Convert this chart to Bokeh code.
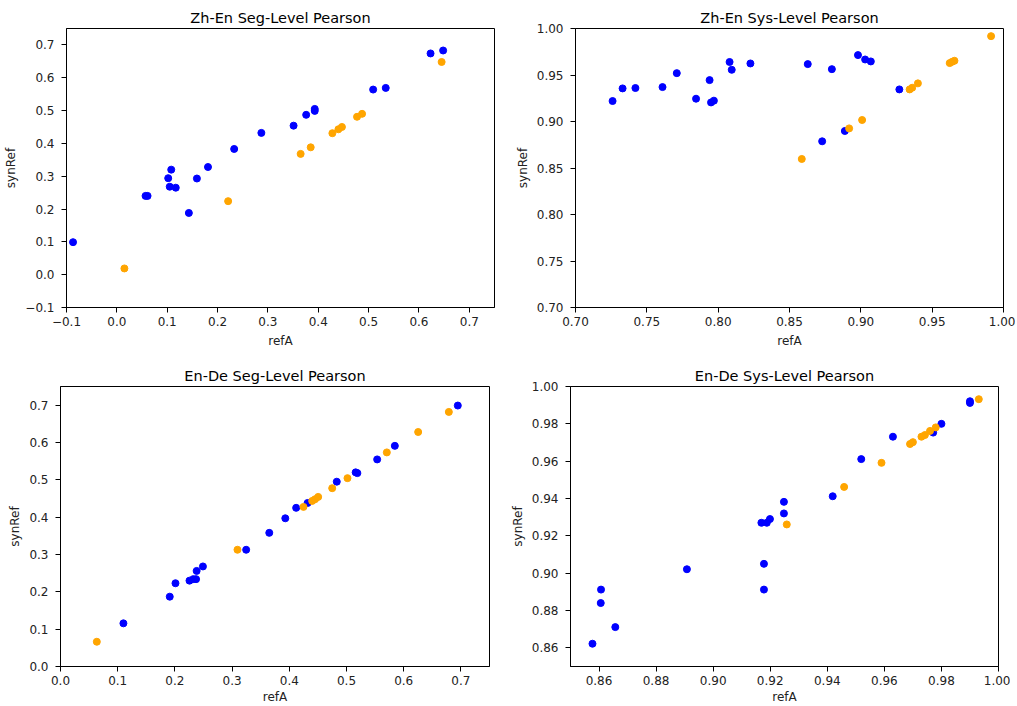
from bokeh.plotting import figure
from bokeh.layouts import column, row
from bokeh.models import FixedTicker, CustomJSTickFormatter, Range1d
from bokeh.embed import file_html
from bokeh.resources import INLINE

# ---------------- data ----------------
# Zh-En Seg-Level
zh_seg_blue_x = [-0.087, 0.057, 0.061, 0.102, 0.108, 0.105, 0.117, 0.143, 0.159, 0.181, 0.233,
                 0.287, 0.351, 0.376, 0.393, 0.393, 0.509, 0.534, 0.623, 0.648]
zh_seg_blue_y = [0.099, 0.240, 0.240, 0.294, 0.320, 0.268, 0.265, 0.188, 0.293, 0.328, 0.383,
                 0.432, 0.454, 0.487, 0.505, 0.499, 0.564, 0.569, 0.674, 0.683]
zh_seg_orange_x = [0.015, 0.221, 0.365, 0.385, 0.428, 0.440, 0.447, 0.477, 0.487, 0.645]
zh_seg_orange_y = [0.019, 0.224, 0.368, 0.388, 0.431, 0.443, 0.450, 0.481, 0.490, 0.648]

# Zh-En Sys-Level
zh_sys_blue_x = [0.726, 0.733, 0.742, 0.761, 0.771, 0.7845, 0.794, 0.795, 0.797, 0.808, 0.8095,
                 0.8226, 0.8628, 0.8729, 0.8797, 0.8888, 0.898, 0.903, 0.907, 0.927]
zh_sys_blue_y = [0.922, 0.9356, 0.936, 0.937, 0.952, 0.9245, 0.9445, 0.9205, 0.9224, 0.964, 0.9556,
                 0.9624, 0.9617, 0.8787, 0.9563, 0.8898, 0.9714, 0.9667, 0.9646, 0.9345]
zh_sys_orange_x = [0.8586, 0.8918, 0.9009, 0.9342, 0.936, 0.940, 0.9623, 0.964, 0.9656, 0.9913]
zh_sys_orange_y = [0.8597, 0.8926, 0.9016, 0.9345, 0.9363, 0.941, 0.9628, 0.9642, 0.9653, 0.9918]

# En-De Seg-Level
en_seg_blue_x = [0.110, 0.191, 0.201, 0.2255, 0.232, 0.237, 0.238, 0.249, 0.3246, 0.365, 0.393,
                 0.412, 0.432, 0.483, 0.516, 0.519, 0.5536, 0.5845, 0.6946]
en_seg_blue_y = [0.1156, 0.187, 0.223, 0.230, 0.234, 0.234, 0.256, 0.268, 0.3127, 0.358, 0.397,
                 0.425, 0.438, 0.495, 0.520, 0.518, 0.5547, 0.591, 0.699]
en_seg_orange_x = [0.0635, 0.3094, 0.4248, 0.440, 0.445, 0.4505, 0.475, 0.5017, 0.5705, 0.6253, 0.6789]
en_seg_orange_y = [0.0663, 0.3127, 0.4274, 0.4435, 0.448, 0.4543, 0.4776, 0.5045, 0.5735, 0.6281, 0.6819]

# En-De Sys-Level
en_sys_blue_x = [0.8577, 0.8607, 0.8606, 0.8657, 0.8908, 0.9169, 0.9188, 0.9199, 0.9178, 0.9178,
                 0.9248, 0.9248, 0.9419, 0.9519, 0.963, 0.9771, 0.980, 0.990, 0.990]
en_sys_blue_y = [0.8622, 0.8912, 0.884, 0.8711, 0.9021, 0.927, 0.927, 0.929, 0.905, 0.8912,
                 0.9382, 0.932, 0.9412, 0.9611, 0.9731, 0.9753, 0.980, 0.9912, 0.9921]
en_sys_orange_x = [0.9258, 0.9459, 0.959, 0.969, 0.970, 0.973, 0.9742, 0.976, 0.978, 0.9931]
en_sys_orange_y = [0.9261, 0.9462, 0.9591, 0.9692, 0.9702, 0.9731, 0.974, 0.9762, 0.9781, 0.9932]

titles = ["Zh-En Seg-Level Pearson", "Zh-En Sys-Level Pearson",
          "En-De Seg-Level Pearson", "En-De Sys-Level Pearson"]
x_label = "refA"
y_label = "synRef"

zh_seg_ticks = [-0.1, 0.0, 0.1, 0.2, 0.3, 0.4, 0.5, 0.6, 0.7]
zh_sys_ticks = [0.70, 0.75, 0.80, 0.85, 0.90, 0.95, 1.00]
en_seg_ticks = [0.0, 0.1, 0.2, 0.3, 0.4, 0.5, 0.6, 0.7]
en_sys_ticks = [0.86, 0.88, 0.90, 0.92, 0.94, 0.96, 0.98, 1.00]

FONT = "DejaVu Sans"


def make_fig(title, bx, by, ox, oy, xr, yr, xt, yt, dec, width, height, bl, br, bt, bb, xls):
    p = figure(width=width, height=height, output_backend="svg", toolbar_location=None,
               x_range=Range1d(*xr), y_range=Range1d(*yr),
               min_border_left=bl, min_border_right=br, min_border_top=bt, min_border_bottom=bb)
    p.title.text = title
    p.title.align = "center"
    p.title.text_font = FONT
    p.title.text_font_size = "14.5px"
    p.title.text_font_style = "normal"
    p.title.text_color = "#000000"
    p.title.standoff = 6
    p.xgrid.visible = False
    p.ygrid.visible = False
    p.outline_line_color = "#000000"
    p.outline_line_width = 1
    p.outline_line_alpha = 1
    p.background_fill_color = "white"
    p.border_fill_color = "white"
    fmt = "return tick.toFixed(%d).replace('-', '\\u2212');" % dec
    for ax, ticks in ((p.xaxis[0], xt), (p.yaxis[0], yt)):
        ax.ticker = FixedTicker(ticks=ticks)
        ax.formatter = CustomJSTickFormatter(code=fmt)
        ax.minor_tick_line_color = None
        ax.major_tick_out = 5
        ax.major_tick_in = 0
        ax.major_tick_line_color = "#000000"
        ax.axis_line_color = "#000000"
        ax.major_label_text_font = FONT
        ax.major_label_text_font_size = "12px"
        ax.major_label_text_color = "#222222"
        ax.axis_label_text_font = FONT
        ax.axis_label_text_font_size = "12px"
        ax.axis_label_text_font_style = "normal"
        ax.axis_label_text_color = "#222222"
    p.xaxis.major_label_standoff = 4
    p.yaxis.major_label_standoff = 7
    p.xaxis.axis_label = x_label
    p.yaxis.axis_label = y_label
    p.xaxis.axis_label_standoff = xls
    p.yaxis.axis_label_standoff = 4
    p.scatter(bx, by, size=7, color="blue", line_color="blue")
    p.scatter(ox, oy, size=7, color="orange", line_color="orange")
    return p


p1 = make_fig(titles[0], zh_seg_blue_x, zh_seg_blue_y, zh_seg_orange_x, zh_seg_orange_y,
              (-0.1, 0.75), (-0.1, 0.75), zh_seg_ticks, zh_seg_ticks, 1,
              504, 352, 66, 10, 28, 45, 5)
p2 = make_fig(titles[1], zh_sys_blue_x, zh_sys_blue_y, zh_sys_orange_x, zh_sys_orange_y,
              (0.70, 1.00), (0.70, 1.00), zh_sys_ticks, zh_sys_ticks, 2,
              511, 352, 71, 12, 28, 45, 5)
p3 = make_fig(titles[2], en_seg_blue_x, en_seg_blue_y, en_seg_orange_x, en_seg_orange_y,
              (0.0, 0.75), (0.0, 0.75), en_seg_ticks, en_seg_ticks, 1,
              499, 354, 60, 10, 34, 40, 2)
p4 = make_fig(titles[3], en_sys_blue_x, en_sys_blue_y, en_sys_orange_x, en_sys_orange_y,
              (0.85, 1.00), (0.85, 1.00), en_sys_ticks, en_sys_ticks, 2,
              511, 354, 71, 12, 34, 40, 2)

layout = column(row(p1, p2, spacing=0), row(p3, p4, spacing=0), spacing=0)

with open("out.html", "w") as f:
    f.write(file_html(layout, INLINE))
